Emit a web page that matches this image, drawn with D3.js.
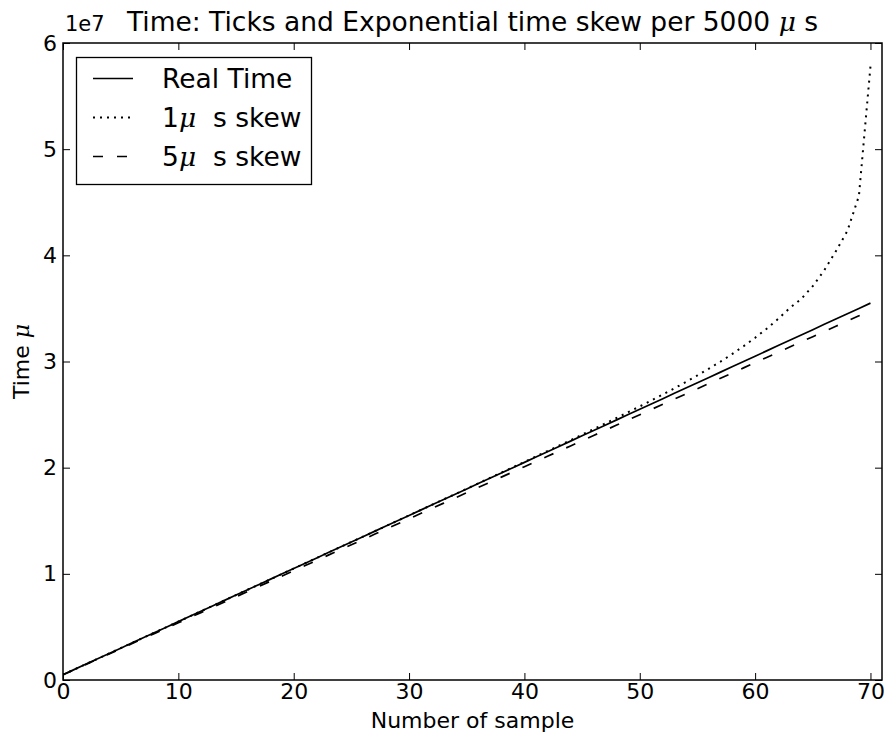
<!DOCTYPE html>
<html>
<head>
<meta charset="utf-8">
<script src="https://cdn.jsdelivr.net/npm/d3@7"></script>
<style>
  body { margin: 0; background: #fff; }
  svg { display: block; font-family: "DejaVu Sans", sans-serif; }
  .mu { font-family: "DejaVu Serif", serif; font-style: italic; }
</style>
</head>
<body>
<div id="container"></div>
<script>
/* CONSTANTS AND GLOBALS */
const width = 888,
  height = 732,
  margin = { top: 43, bottom: 52, left: 63, right: 6 };

/* DATA */
const samples = d3.range(0, 71); // sample number 0..70
const xTicks = [0, 10, 20, 30, 40, 50, 60, 70];
const yTicks = [0, 1e7, 2e7, 3e7, 4e7, 5e7, 6e7];
const yTickLabels = ["0", "1", "2", "3", "4", "5", "6"];

const realTime = [
  500000, 1000000, 1500000, 2000000, 2500000, 3000000, 3500000, 4000000, 4500000, 5000000,
  5500000, 6000000, 6500000, 7000000, 7500000, 8000000, 8500000, 9000000, 9500000, 10000000,
  10500000, 11000000, 11500000, 12000000, 12500000, 13000000, 13500000, 14000000, 14500000, 15000000,
  15500000, 16000000, 16500000, 17000000, 17500000, 18000000, 18500000, 19000000, 19500000, 20000000,
  20500000, 21000000, 21500000, 22000000, 22500000, 23000000, 23500000, 24000000, 24500000, 25000000,
  25500000, 26000000, 26500000, 27000000, 27500000, 28000000, 28500000, 29000000, 29500000, 30000000,
  30500000, 31000000, 31500000, 32000000, 32500000, 33000000, 33500000, 34000000, 34500000, 35000000,
  35500000
];

const skew1us = [
  500000, 1000000, 1500000, 2000000, 2500000, 3000000, 3500000, 4000000, 4500000, 5000000,
  5500000, 6000000, 6500000, 7000000, 7500000, 8000000, 8500000, 9000000, 9500000, 10000000,
  10500000, 11000000, 11500000, 12000000, 12500000, 13000000, 13500000, 14000000, 14500000, 15000000,
  15506000, 16007000, 16509000, 17011000, 17513000, 18016000, 18520000, 19024000, 19529000, 20035000,
  20542000, 21051000, 21561000, 22073000, 22589000, 23107000, 23628000, 24155000, 24686000, 25224000,
  25770000, 26325000, 26892000, 27472000, 28068000, 28684000, 29324000, 29993000, 30696000, 31440000,
  32234000, 33090000, 34016000, 35030000, 35900000, 37100000, 38600000, 40380000, 42300000, 45600000,
  57800000
];

const skew5us = [
  490000, 980000, 1470000, 1960000, 2450000, 2940000, 3430000, 3920000, 4410000, 4900000,
  5390000, 5880000, 6370000, 6860000, 7350000, 7840000, 8330000, 8820000, 9310000, 9800000,
  10290000, 10780000, 11270000, 11760000, 12250000, 12740000, 13230000, 13720000, 14210000, 14700000,
  15190000, 15680000, 16170000, 16660000, 17150000, 17640000, 18130000, 18620000, 19110000, 19600000,
  20090000, 20580000, 21070000, 21560000, 22050000, 22540000, 23030000, 23520000, 24010000, 24500000,
  24990000, 25480000, 25970000, 26460000, 26950000, 27440000, 27930000, 28420000, 28910000, 29400000,
  29890000, 30380000, 30870000, 31360000, 31850000, 32340000, 32830000, 33320000, 33810000, 34300000,
  34790000
];

const seriesNames = ["Real Time", "1", "5"];

const series = [
  { values: realTime, dash: null, w: 1.7 },
  { values: skew1us, dash: "2,5", w: 2 },
  { values: skew5us, dash: "10,14", w: 1.7 }
];

/* SCALES */
const xScale = d3.scaleLinear()
  .domain([0, 71])
  .range([margin.left, width - margin.right]);

const yScale = d3.scaleLinear()
  .domain([0, 6e7])
  .range([height - margin.bottom, margin.top]);

/* SVG */
const svg = d3.select("#container")
  .append("svg")
  .attr("width", width)
  .attr("height", height);

svg.append("clipPath")
  .attr("id", "plotclip")
  .append("rect")
  .attr("x", margin.left)
  .attr("y", margin.top)
  .attr("width", width - margin.right - margin.left)
  .attr("height", height - margin.bottom - margin.top);

/* LINES */
const line = d3.line()
  .x((d, i) => xScale(samples[i]))
  .y(d => yScale(d));

svg.append("g")
  .attr("clip-path", "url(#plotclip)")
  .selectAll("path")
  .data(series)
  .join("path")
  .attr("d", d => line(d.values))
  .attr("fill", "none")
  .attr("stroke", "#000")
  .attr("stroke-width", d => d.w)
  .attr("stroke-dasharray", d => d.dash);

/* AXES (inward ticks on all four sides) */
const tickLen = 7;
const axisFont = "22px";

const xAxisB = svg.append("g")
  .attr("transform", `translate(0, ${height - margin.bottom})`)
  .call(d3.axisBottom(xScale).tickValues(xTicks).tickSizeInner(-tickLen).tickSizeOuter(0).tickPadding(3));
const xAxisT = svg.append("g")
  .attr("transform", `translate(0, ${margin.top})`)
  .call(d3.axisTop(xScale).tickValues(xTicks).tickSizeInner(-tickLen).tickSizeOuter(0).tickFormat(""));
const yAxisL = svg.append("g")
  .attr("transform", `translate(${margin.left}, 0)`)
  .call(d3.axisLeft(yScale).tickValues(yTicks).tickSizeInner(-tickLen).tickSizeOuter(0)
    .tickPadding(6).tickFormat((d, i) => yTickLabels[i]));
const yAxisR = svg.append("g")
  .attr("transform", `translate(${width - margin.right}, 0)`)
  .call(d3.axisRight(yScale).tickValues(yTicks).tickSizeInner(-tickLen).tickSizeOuter(0).tickFormat(""));

[xAxisB, xAxisT, yAxisL, yAxisR].forEach(g => {
  g.select(".domain").remove();
  g.selectAll(".tick line").attr("stroke", "#000").attr("stroke-width", 1);
  g.selectAll(".tick text")
    .attr("fill", "#000")
    .style("font-family", "DejaVu Sans")
    .style("font-size", axisFont);
});

// frame
svg.append("rect")
  .attr("x", margin.left)
  .attr("y", margin.top)
  .attr("width", width - margin.right - margin.left)
  .attr("height", height - margin.bottom - margin.top)
  .attr("fill", "none")
  .attr("stroke", "#000")
  .attr("stroke-width", 1.5);

// offset label
svg.append("text")
  .attr("x", margin.left + 2)
  .attr("y", margin.top - 12)
  .style("font-size", "21px")
  .text("1e7");

/* TITLE AND LABELS */
const title = svg.append("text")
  .attr("x", (margin.left + width - margin.right) / 2)
  .attr("y", 31)
  .attr("text-anchor", "middle")
  .style("font-size", "26.5px");
title.append("tspan").text("Time: Ticks and Exponential time skew per 5000 ");
title.append("tspan").attr("class", "mu").text("\u03bc");
title.append("tspan").text(" s");

svg.append("text")
  .attr("x", (margin.left + width - margin.right) / 2)
  .attr("y", 728)
  .attr("text-anchor", "middle")
  .style("font-size", "22px")
  .text("Number of sample");

const yLab = svg.append("text")
  .attr("transform", `translate(29, ${(margin.top + height - margin.bottom) / 2}) rotate(-90)`)
  .attr("text-anchor", "middle")
  .style("font-size", "22px");
yLab.append("tspan").text("Time ");
yLab.append("tspan").attr("class", "mu").text("\u03bc");

/* LEGEND */
const legend = svg.append("g");
legend.append("rect")
  .attr("x", 76.5)
  .attr("y", 57.5)
  .attr("width", 235)
  .attr("height", 127)
  .attr("fill", "#fff")
  .attr("stroke", "#000")
  .attr("stroke-width", 1.3);

const rows = legend.selectAll("g.row")
  .data(series)
  .join("g")
  .attr("class", "row")
  .attr("transform", (d, i) => `translate(0, ${78.5 + i * 39})`);

rows.append("line")
  .attr("x1", 93)
  .attr("x2", 133)
  .attr("stroke", "#000")
  .attr("stroke-width", d => d.w)
  .attr("stroke-dasharray", d => d.dash);

rows.each(function (d, i) {
  const t = d3.select(this).append("text")
    .attr("x", 162)
    .attr("y", 9.5)
    .style("font-size", "26.5px");
  if (i === 0) {
    t.text(seriesNames[0]);
  } else {
    t.append("tspan").text(seriesNames[i]);
    t.append("tspan").attr("class", "mu").text("\u03bc");
    t.append("tspan").style("white-space", "pre").text("  s skew");
  }
});
</script>
</body>
</html>
